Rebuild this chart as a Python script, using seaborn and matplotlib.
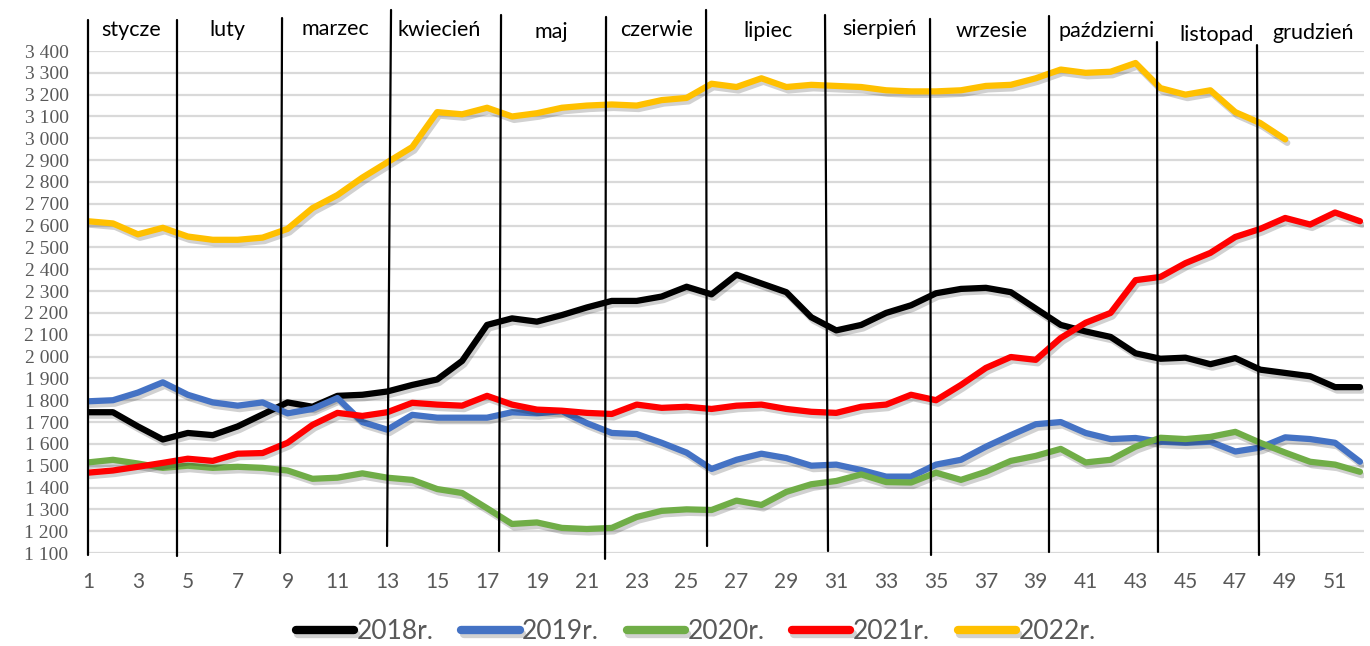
import pandas as pd
import matplotlib
matplotlib.use("Agg")
import matplotlib.pyplot as plt
import matplotlib.patheffects as pe
from matplotlib.ticker import FuncFormatter
import seaborn as sns

# weekly values
weeks = list(range(1, 53))
v2018 = [1745, 1745, 1680, 1620, 1650, 1640, 1680, 1735, 1790, 1770,
         1820, 1825, 1840, 1870, 1895, 1980, 2145, 2175, 2160, 2190,
         2225, 2255, 2255, 2275, 2320, 2285, 2375, 2335, 2295, 2180,
         2120, 2145, 2200, 2235, 2290, 2310, 2315, 2295, 2220, 2145,
         2115, 2090, 2015, 1990, 1995, 1965, 1993, 1940, 1925, 1910,
         1860, 1860]
v2019 = [1795, 1800, 1835, 1882, 1825, 1790, 1775, 1790, 1740, 1760,
         1810, 1700, 1665, 1733, 1720, 1720, 1720, 1745, 1740, 1750,
         1695, 1650, 1645, 1605, 1560, 1485, 1527, 1555, 1535, 1500,
         1505, 1480, 1450, 1450, 1505, 1527, 1587, 1640, 1690, 1700,
         1650, 1622, 1627, 1610, 1605, 1610, 1565, 1583, 1630, 1622,
         1605, 1518]
v2020 = [1515, 1527, 1510, 1490, 1500, 1490, 1495, 1490, 1478, 1440,
         1445, 1465, 1445, 1435, 1393, 1375, 1305, 1233, 1240, 1215,
         1210, 1215, 1265, 1293, 1300, 1297, 1340, 1320, 1380, 1415,
         1430, 1460, 1425, 1423, 1468, 1435, 1472, 1522, 1545, 1577,
         1515, 1527, 1587, 1628, 1622, 1632, 1655, 1605, 1560, 1518,
         1505, 1472]
v2021 = [1468, 1478, 1495, 1513, 1532, 1522, 1555, 1558, 1605, 1687,
         1742, 1728, 1745, 1788, 1780, 1775, 1820, 1780, 1757, 1752,
         1742, 1737, 1780, 1765, 1770, 1760, 1775, 1780, 1760, 1747,
         1742, 1770, 1780, 1825, 1800, 1870, 1948, 1998, 1985, 2085,
         2155, 2200, 2350, 2365, 2428, 2475, 2548, 2585, 2635, 2605,
         2660, 2620]
v2022 = [2620, 2610, 2560, 2590, 2550, 2535, 2535, 2545, 2585, 2680,
         2740, 2820, 2890, 2960, 3120, 3110, 3140, 3100, 3115, 3140,
         3150, 3155, 3150, 3175, 3185, 3250, 3235, 3275, 3235, 3245,
         3240, 3235, 3220, 3215, 3215, 3220, 3240, 3245, 3275, 3315,
         3300, 3305, 3345, 3230, 3200, 3220, 3120, 3070, 2995]

series = {"2018r.": v2018, "2019r.": v2019, "2020r.": v2020,
          "2021r.": v2021, "2022r.": v2022}
colors = {"2018r.": "#000000", "2019r.": "#4472C4", "2020r.": "#70AD47",
          "2021r.": "#FF0000", "2022r.": "#FFC000"}

# month labels and the hand-drawn month separators (in week units)
month_names = ["stycze", "luty", "marzec", "kwiecień", "maj", "czerwie",
               "lipiec", "sierpień", "wrzesie", "październi", "listopad", "grudzień"]
month_label_x = [2.72, 6.57, 10.9, 15.07, 19.56, 23.81, 28.27, 32.72,
                 37.25, 41.86, 46.23, 50.12]
month_label_y = [3469, 3469, 3473, 3469, 3460, 3469, 3464, 3473,
                 3464, 3462, 3446, 3455]
sep_top_x = [1.0, 4.57, 8.78, 13.15, 17.56, 21.77, 25.78, 30.55, 34.76, 39.53, 43.86, 47.87]
sep_bot_x = [1.0, 4.57, 8.70, 12.99, 17.48, 21.73, 25.82, 30.67, 34.80, 39.53, 43.90, 47.95]
sep_top_y = [3542, 3542, 3551, 3588, 3565, 3556, 3588, 3565, 3547, 3560, 3441, 3427]
sep_bot_y = [1091, 1086, 1100, 1132, 1109, 1073, 1132, 1109, 1091, 1105, 1105, 1091]

frames = []
for name, vals in series.items():
    frames.append(pd.DataFrame({"week": weeks[:len(vals)], "value": vals, "year": name}))
df = pd.concat(frames, ignore_index=True)

sns.set_style("white")
plt.rcParams["font.family"] = ["Lato", "DejaVu Sans"]

fig = plt.figure(figsize=(13.7, 6.46), dpi=100)
ax = fig.add_axes([88 / 1370, 93 / 646, 1276 / 1370, 502 / 646])

sns.lineplot(data=df, x="week", y="value", hue="year", palette=colors,
             linewidth=4.5, ax=ax)

shadow = [pe.SimpleLineShadow(offset=(1.5, -2.5), shadow_color="black", alpha=0.18),
          pe.Normal()]
for line in ax.lines:
    line.set_path_effects(shadow)
    line.set_solid_joinstyle("round")
    line.set_solid_capstyle("round")

handles, labels = ax.get_legend_handles_labels()
ax.get_legend().remove()

ax.set_xlim(1, 52.16)
ax.set_ylim(1100, 3400)
ax.set_yticks(range(1100, 3401, 100))
ax.yaxis.set_major_formatter(FuncFormatter(lambda v, p: f"{int(v):,}".replace(",", " ")))
ax.set_xticks(range(1, 52, 2))
ax.grid(axis="y", color="#d9d9d9", linewidth=1.6)
ax.grid(axis="x", visible=False)
for s in ax.spines.values():
    s.set_visible(False)
ax.set_xlabel("")
ax.set_ylabel("")
ax.tick_params(axis="both", length=0)
ax.tick_params(axis="x", pad=14, labelsize=15, labelcolor="#595959")
ax.tick_params(axis="y", pad=14, labelcolor="#595959")
for t in ax.get_yticklabels():
    t.set_family("Liberation Serif")
    t.set_fontsize(14)

# month separators and labels
for x0, x1, y0, y1 in zip(sep_top_x, sep_bot_x, sep_top_y, sep_bot_y):
    ax.plot([x0, x1], [y0, y1], color="black", linewidth=1.6, clip_on=False, zorder=10)
for name, x, y in zip(month_names, month_label_x, month_label_y):
    ax.text(x, y, name, ha="center", va="baseline", fontsize=15.5,
            color="black", clip_on=False, zorder=11)

leg = fig.legend(handles, labels, loc="center", bbox_to_anchor=(0.508, 0.022),
                 ncol=5, frameon=False, handlelength=2.2, handletextpad=0.1,
                 columnspacing=1.05, prop={"family": ["Lato", "DejaVu Sans"], "size": 19})
for h in leg.get_lines():
    h.set_linewidth(6)
    h.set_solid_capstyle("round")
for t in leg.get_texts():
    t.set_color("#595959")

fig.savefig("out.png", dpi=100)
